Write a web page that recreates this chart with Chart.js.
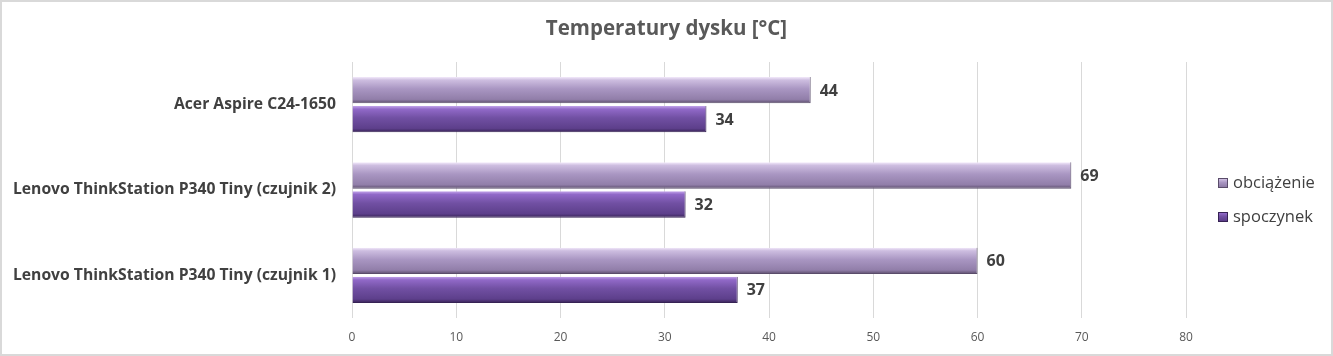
<!DOCTYPE html>
<html><head><meta charset="utf-8">
<script src="https://cdn.jsdelivr.net/npm/chart.js@4"></script>
<style>html,body{margin:0;padding:0;background:#fff;}#wrap{width:1333px;height:356px;}</style>
</head><body><div id="wrap"><canvas id="c" width="1333" height="356"></canvas></div>
<script>
const categories = ["Acer Aspire C24-1650", "Lenovo ThinkStation P340 Tiny (czujnik 2)", "Lenovo ThinkStation P340 Tiny (czujnik 1)"];
const obciazenie = [44, 69, 60];
const spoczynek = [34, 32, 37];
const seriesNames = ["obciążenie", "spoczynek"];
const xTicks = [0, 10, 20, 30, 40, 50, 60, 70, 80];
const chartTitle = "Temperatury dysku [°C]";

const FONT = "'Open Sans', Lato, sans-serif";

const lightStops = [[0,'#f3eafb'],[0.12,'#cdbde0'],[0.45,'#a996c2'],[0.85,'#917ea9'],[1,'#5a4c6a']];
const darkStops = [[0,'#c2a4ea'],[0.12,'#9169c8'],[0.45,'#7150a3'],[0.85,'#5d3f8b'],[1,'#362254']];
const swatch = [['#a996c2','#5a4c6a'],['#7150a3','#362254']];

const gradPlugin = {
  id:'grad',
  beforeDatasetsDraw(chart){
    const c = chart.ctx;
    chart.data.datasets.forEach((ds,i)=>{
      const stops = i===0 ? lightStops : darkStops;
      chart.getDatasetMeta(i).data.forEach(bar=>{
        const h = bar.height; const y0 = bar.y - h/2, y1 = bar.y + h/2;
        const g = c.createLinearGradient(0, y0, 0, y1);
        stops.forEach(s=>g.addColorStop(s[0], s[1]));
        bar.options = Object.assign({}, bar.options, {backgroundColor: g});
      });
    });
  }
};
const framePlugin = {
  id:'frame',
  afterDraw(chart){
    const c = chart.ctx; c.save(); c.strokeStyle='#d9d9d9'; c.lineWidth=2;
    c.strokeRect(1,1,chart.width-2,chart.height-2);
    c.font = "bold 20.5px " + FONT; c.fillStyle = '#595959'; c.textAlign='center'; c.textBaseline='middle';
    c.fillText(chartTitle, chart.width/2, 29);
    c.restore();
  }
};
const legendPlugin = {
  id:'sideLegend',
  afterDraw(chart){
    const c = chart.ctx, a = chart.chartArea; c.save();
    c.font = "16.5px " + FONT; c.textBaseline='middle'; c.textAlign='left';
    const x = a.right + 32; const y0 = (a.top + a.bottom)/2 - 7;
    chart.data.datasets.forEach((ds,i)=>{
      const y = y0 + i*34;
      const g = c.createLinearGradient(0, y-5, 0, y+5);
      (i===0?lightStops:darkStops).forEach(s=>g.addColorStop(s[0], s[1]));
      c.fillStyle = g; c.fillRect(x, y-5, 10, 10);
      c.strokeStyle = swatch[i][1]; c.lineWidth=1; c.strokeRect(x+0.5, y-4.5, 9, 9);
      c.fillStyle = '#404040'; c.fillText(ds.label, x + 15, y);
    });
    c.restore();
  }
};
const labelPlugin = {
  id:'vals',
  afterDatasetsDraw(chart){
    const c = chart.ctx; c.save();
    c.font = "bold 16px " + FONT; c.fillStyle='#404040'; c.textBaseline='middle'; c.textAlign='left';
    chart.data.datasets.forEach((ds,i)=>{
      chart.getDatasetMeta(i).data.forEach((bar,j)=>{
        c.fillText(String(ds.data[j]), bar.x + 9, bar.y + 1);
      });
    });
    c.restore();
  }
};

new Chart(document.getElementById('c'), {
  type:'bar',
  data:{
    labels: categories,
    datasets:[
      {label: seriesNames[0], data: obciazenie, backgroundColor:swatch[0][0], borderColor:swatch[0][1], borderWidth:{right:1,bottom:1}, borderSkipped:false},
      {label: seriesNames[1], data: spoczynek, backgroundColor:swatch[1][0], borderColor:swatch[1][1], borderWidth:{right:1,bottom:1}, borderSkipped:false}
    ]
  },
  options:{
    indexAxis:'y',
    responsive:false,
    animation:false,
    layout:{padding:{left:10, right:147, top:62, bottom:0}},
    datasets:{bar:{categoryPercentage:0.68, barPercentage:0.91}},
    plugins:{
      title:{display:false},
      legend:{display:false},
      tooltip:{enabled:false}
    },
    scales:{
      x:{min:0, max:80, afterBuildTicks(s){ s.ticks = xTicks.map(v=>({value:v})); },
        afterFit(s){ s.height = 38; },
        grid:{color:'#d9d9d9', drawTicks:false},
        border:{display:false},
        ticks:{color:'#595959', font:{family:FONT, size:12}, padding:12}},
      y:{grid:{display:false, drawTicks:false}, border:{display:false},
        afterFit(s){ s.width = 342; },
        ticks:{color:'#404040', font:{family:FONT, size:15.7, weight:'bold'}, padding:16}}
    }
  },
  plugins:[gradPlugin, framePlugin, legendPlugin, labelPlugin]
});
</script></body></html>
